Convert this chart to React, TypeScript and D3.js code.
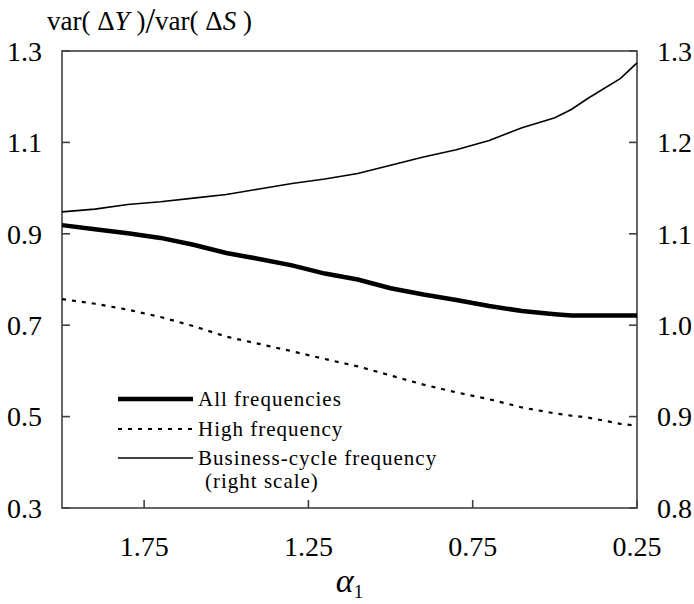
import { useEffect, useRef } from "react";
import * as d3 from "d3";

// alpha_1 grid (x axis, reversed)
const alphas = [2.0, 1.9, 1.8, 1.7, 1.6, 1.5, 1.4, 1.3, 1.2, 1.1, 1.0, 0.9, 0.8, 0.7, 0.6, 0.5, 0.45, 0.4, 0.3, 0.25];

// var(dY)/var(dS), left scale
const allFreq = [0.919, 0.910, 0.901, 0.891, 0.876, 0.858, 0.845, 0.831, 0.813, 0.800, 0.781, 0.767, 0.755, 0.742, 0.731, 0.724, 0.721, 0.721, 0.721, 0.721];
const highFreq = [0.757, 0.747, 0.734, 0.718, 0.698, 0.675, 0.659, 0.643, 0.626, 0.610, 0.590, 0.570, 0.553, 0.538, 0.520, 0.507, 0.502, 0.498, 0.484, 0.480];
// right scale
const busCycle = [1.124, 1.127, 1.132, 1.135, 1.139, 1.143, 1.149, 1.155, 1.160, 1.166, 1.175, 1.184, 1.192, 1.202, 1.216, 1.227, 1.236, 1.248, 1.270, 1.287];

const xTicks = [1.75, 1.25, 0.75, 0.25];
const leftTicks = [0.3, 0.5, 0.7, 0.9, 1.1, 1.3];
const rightTicks = [0.8, 0.9, 1.0, 1.1, 1.2, 1.3];

const legendItems = [
    { label: "All frequencies", width: 4.5, dash: null },
    { label: "High frequency", width: 2.2, dash: "4,6" },
    { label: "Business-cycle frequency", width: 1.6, dash: null },
];

const FONT = "'Liberation Serif'";

const App = () => {
    const svgRef = useRef(null);

    useEffect(() => {
        const svg = d3.select(svgRef.current);
        svg.selectAll("*").remove();

        const W = 694, H = 604;
        const margin = { top: 51, right: 57, bottom: 96, left: 62 };
        const x0 = margin.left, x1 = W - margin.right;
        const y0 = H - margin.bottom, y1 = margin.top;

        const x = d3.scaleLinear().domain([2.0, 0.25]).range([x0, x1]);
        const yL = d3.scaleLinear().domain([0.3, 1.3]).range([y0, y1]);
        const yR = d3.scaleLinear().domain([0.8, 1.3]).range([y0, y1]);

        const axisColor = "#404040";

        // 가장자리 프레임
        svg.append("rect")
            .attr("x", x0).attr("y", y1)
            .attr("width", x1 - x0).attr("height", y0 - y1)
            .attr("fill", "none")
            .attr("stroke", axisColor)
            .attr("stroke-width", 1.6);

        // 안쪽 틱
        const tickLen = 8;
        svg.append("g").selectAll("line")
            .data(leftTicks).enter().append("line")
            .attr("x1", x0).attr("x2", x0 + tickLen)
            .attr("y1", (d) => yL(d)).attr("y2", (d) => yL(d))
            .attr("stroke", axisColor).attr("stroke-width", 1.6);
        svg.append("g").selectAll("line")
            .data(rightTicks).enter().append("line")
            .attr("x1", x1).attr("x2", x1 - tickLen)
            .attr("y1", (d) => yR(d)).attr("y2", (d) => yR(d))
            .attr("stroke", axisColor).attr("stroke-width", 1.6);
        svg.append("g").selectAll("line")
            .data(xTicks).enter().append("line")
            .attr("x1", (d) => x(d)).attr("x2", (d) => x(d))
            .attr("y1", y0).attr("y2", y0 - tickLen)
            .attr("stroke", axisColor).attr("stroke-width", 1.6);

        // 틱 라벨
        const tickFont = "28px";
        svg.append("g").selectAll("text")
            .data(leftTicks).enter().append("text")
            .attr("x", x0 - 20).attr("y", (d) => yL(d))
            .attr("dy", "0.35em")
            .attr("text-anchor", "end")
            .style("font-family", FONT).style("font-size", tickFont)
            .text((d) => d.toFixed(1));
        svg.append("g").selectAll("text")
            .data(rightTicks).enter().append("text")
            .attr("x", x1 + 20).attr("y", (d) => yR(d))
            .attr("dy", "0.35em")
            .attr("text-anchor", "start")
            .style("font-family", FONT).style("font-size", tickFont)
            .text((d) => d.toFixed(1));
        svg.append("g").selectAll("text")
            .data(xTicks).enter().append("text")
            .attr("x", (d) => x(d)).attr("y", y0 + 48)
            .attr("text-anchor", "middle")
            .style("font-family", FONT).style("font-size", tickFont)
            .text((d) => d.toFixed(2));

        // x축 제목 (alpha_1)
        const xt = svg.append("text")
            .attr("x", (x0 + x1) / 2).attr("y", H - 12)
            .attr("text-anchor", "middle")
            .style("font-family", FONT);
        xt.append("tspan").style("font-style", "italic").style("font-size", "34px").text("α");
        xt.append("tspan").attr("dy", 6).style("font-size", "19px").text("1");

        // y축 제목
        const yt = svg.append("text")
            .attr("x", 47).attr("y", 30)
            .style("font-family", FONT).style("font-size", "27px");
        yt.append("tspan").text("var( Δ");
        yt.append("tspan").style("font-style", "italic").text("Y");
        yt.append("tspan").text(" )");
        yt.append("tspan").style("font-size", "35px").attr("dy", 3).text("/");
        yt.append("tspan").attr("dy", -3).text("var( Δ");
        yt.append("tspan").style("font-style", "italic").text("S");
        yt.append("tspan").text(" )");

        // 선
        const lineL = d3.line().x((d) => x(d[0])).y((d) => yL(d[1]));
        const lineR = d3.line().x((d) => x(d[0])).y((d) => yR(d[1]));

        svg.append("path")
            .datum(alphas.map((a, i) => [a, busCycle[i]]))
            .attr("d", lineR)
            .attr("fill", "none").attr("stroke", "#000").attr("stroke-width", 1.6);
        svg.append("path")
            .datum(alphas.map((a, i) => [a, highFreq[i]]))
            .attr("d", lineL)
            .attr("fill", "none").attr("stroke", "#000").attr("stroke-width", 2.2)
            .attr("stroke-dasharray", "4,6");
        svg.append("path")
            .datum(alphas.map((a, i) => [a, allFreq[i]]))
            .attr("d", lineL)
            .attr("fill", "none").attr("stroke", "#000").attr("stroke-width", 4.5);

        // 범례
        const legY = [399, 429, 458];
        const lg = svg.append("g");
        legendItems.forEach((it, i) => {
            lg.append("line")
                .attr("x1", 118).attr("x2", 193)
                .attr("y1", legY[i]).attr("y2", legY[i])
                .attr("stroke", "#000").attr("stroke-width", it.width)
                .attr("stroke-dasharray", it.dash);
            lg.append("text")
                .attr("x", 198).attr("y", legY[i]).attr("dy", "0.35em")
                .style("font-family", FONT).style("font-size", "21px")
                .style("letter-spacing", "1px")
                .text(it.label);
        });
        lg.append("text")
            .attr("x", 205).attr("y", 481).attr("dy", "0.35em")
            .style("font-family", FONT).style("font-size", "21px")
            .style("letter-spacing", "1px")
            .text("(right scale)");
    }, []);

    return (
        <svg ref={svgRef} width={694} height={604}
            style={{ position: "absolute", left: 0, top: 0, background: "#fff" }} />
    );
};

export default App;
